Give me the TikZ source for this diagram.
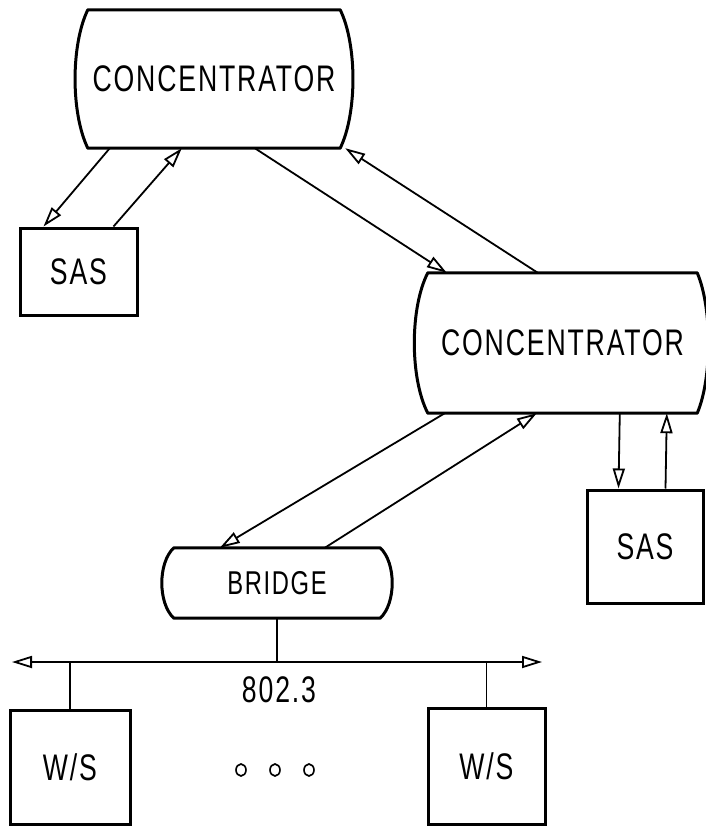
\documentclass[tikz,border=0pt]{standalone}
\usepackage{fontspec}
\newfontfamily\plotfont[FakeStretch=0.72, LetterSpace=5]{Liberation Sans}
\usetikzlibrary{arrows.meta,calc}

\tikzset{
  big/.style={font=\plotfont\fontsize{37}{40}\selectfont},
  box/.style={draw, line width=3pt, rectangle, inner sep=0pt, big},
  hub/.style={draw=none, rectangle, inner sep=0pt, big},
  outline/.style={line width=3pt, line join=round},
  tip/.style={-{Triangle[open, length=20pt, width=12pt, line width=1.8pt]}},
  link/.style={line width=1.8pt, tip},
  wire/.style={line width=1.8pt},
}

\begin{document}
\begin{tikzpicture}[x=1pt, y=-1pt]
\useasboundingbox (0,0) rectangle (706,827);

% concentrators and bridge (barrel-sided outlines drawn around plain nodes)
\node[hub, minimum width=252pt, minimum height=138pt] (c1) at (214,79) {CONCENTRATOR};
\node[hub, minimum width=269pt, minimum height=140pt] (c2) at (562.5,343) {CONCENTRATOR};
\node[hub, minimum width=206pt, minimum height=70pt, font=\plotfont\fontsize{33}{36}\selectfont] (br) at (277,583) {BRIDGE};

\draw[outline] (c1.north west) -- (c1.north east)
  .. controls ($(c1.north east)+(17,35)$) and ($(c1.south east)+(17,-35)$) .. (c1.south east)
  -- (c1.south west)
  .. controls ($(c1.south west)+(-17,-35)$) and ($(c1.north west)+(-17,35)$) .. cycle;
\draw[outline] (c2.north west) -- (c2.north east)
  .. controls ($(c2.north east)+(15,35)$) and ($(c2.south east)+(15,-35)$) .. (c2.south east)
  -- (c2.south west)
  .. controls ($(c2.south west)+(-18,-35)$) and ($(c2.north west)+(-18,35)$) .. cycle;
\draw[outline] (br.north west) -- (br.north east)
  .. controls ($(br.north east)+(16,15)$) and ($(br.south east)+(16,-15)$) .. (br.south east)
  -- (br.south west)
  .. controls ($(br.south west)+(-16,-15)$) and ($(br.north west)+(-16,15)$) .. cycle;

% stations
\node[box, minimum width=117pt, minimum height=87pt] (sas1) at (78.5,271.5) {SAS};
\node[box, minimum width=116pt, minimum height=113pt] (sas2) at (645,546.5) {SAS};
\node[box, minimum width=120pt, minimum height=114pt] (ws1) at (70,767) {W/S};
\node[box, minimum width=117pt, minimum height=116pt] (ws2) at (486.5,766) {W/S};

% ring links
\draw[link] ($(c1.south west)+(22,0)$) -- ($(sas1.north west)+(25,0)$);
\draw[link] ($(sas1.north west)+(95,0)$) -- ($(c1.south west)+(94,0)$);
\draw[link] ($(c1.south west)+(167,0)$) -- ($(c2.north west)+(19,0)$);
\draw[link] ($(c2.north west)+(110,0)$) -- ($(c1.south east)+(5,0)$);
\draw[link] ($(c2.south west)+(17,0)$) -- ($(br.north west)+(46,0)$);
\draw[link] ($(br.north west)+(151,0)$) -- ($(c2.south west)+(109,0)$);
\draw[link] ($(c2.south west)+(192,0)$) -- ($(sas2.north west)+(33,0)$);
\draw[link] ($(sas2.north west)+(80,0)$) -- ($(c2.south west)+(239,0)$);

% 802.3 bus
\coordinate (busL) at (12,662);
\coordinate (busR) at (542,662);
\coordinate (tap) at (br.south |- busL);
\draw[wire, {Triangle[open, length=20pt, width=12pt, line width=1.8pt]}-{Triangle[open, length=20pt, width=12pt, line width=1.8pt]}] (busL) -- (busR);
\draw[wire] (br.south) -- (tap);
\draw[wire] (ws1.north |- busL) -- (ws1.north);
\draw[wire] (ws2.north |- busL) -- (ws2.north);
\node[big] (lbl) at (279,690) {802.3};

% more stations
\foreach \i/\x in {1/241,2/275,3/309}
  \draw[line width=1.6pt] (\x,770) ellipse (5pt and 6pt) node (dot\i) {};
\end{tikzpicture}
\end{document}
